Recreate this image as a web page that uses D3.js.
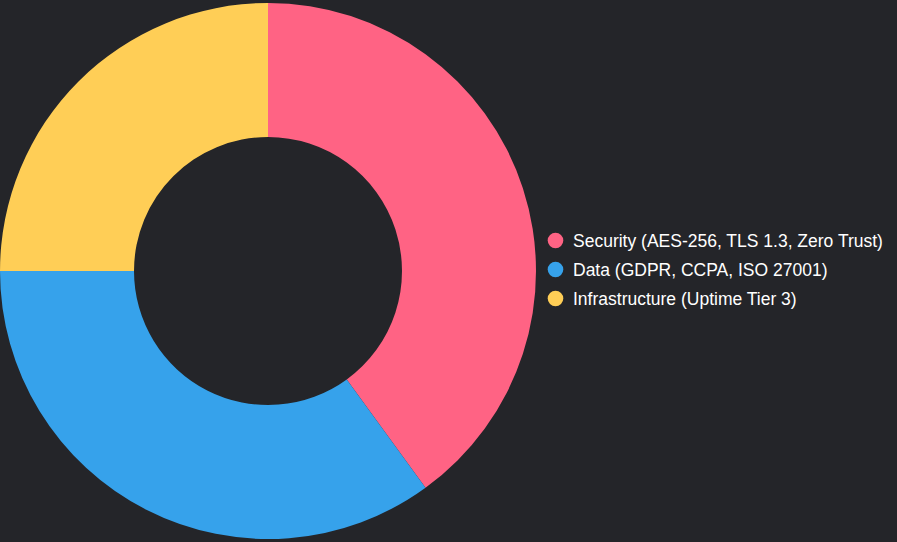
<!DOCTYPE html>
<html><head><meta charset="utf-8">
<script src="https://cdn.jsdelivr.net/npm/d3@7"></script>
<style>html,body{margin:0;padding:0;background:#242529;}svg{display:block;}</style>
</head><body>
<svg id="c" width="897" height="542"></svg>
<script>
const categories = ["Security (AES-256, TLS 1.3, Zero Trust)", "Data (GDPR, CCPA, ISO 27001)", "Infrastructure (Uptime Tier 3)"];
const values = [40, 35, 25];
const colors = ["#FF6384", "#36A2EB", "#FFCE56"];

const svg = d3.select("#c");
const cx = 268, cy = 271, rOuter = 268, rInner = 134;
const pie = d3.pie().sort(null).value(d => d)(values);
const arc = d3.arc().innerRadius(rInner).outerRadius(rOuter);
const g = svg.append("g").attr("transform", `translate(${cx},${cy})`);
g.selectAll("path").data(pie).join("path")
  .attr("d", arc).attr("fill", (d, i) => colors[i]);

const lg = svg.append("g").attr("transform", "translate(555.5,240.5)");
const rows = lg.selectAll("g").data(categories).join("g")
  .attr("transform", (d, i) => `translate(0,${i * 29})`);
rows.append("circle").attr("r", 7.8).attr("fill", (d, i) => colors[i]);
rows.append("text").attr("x", 17.5).attr("dy", "0.35em")
  .attr("fill", "#ffffff").style("font-family", "Liberation Sans, Arial, sans-serif")
  .style("font-size", "17.5px").text(d => d);
</script>
</body></html>
